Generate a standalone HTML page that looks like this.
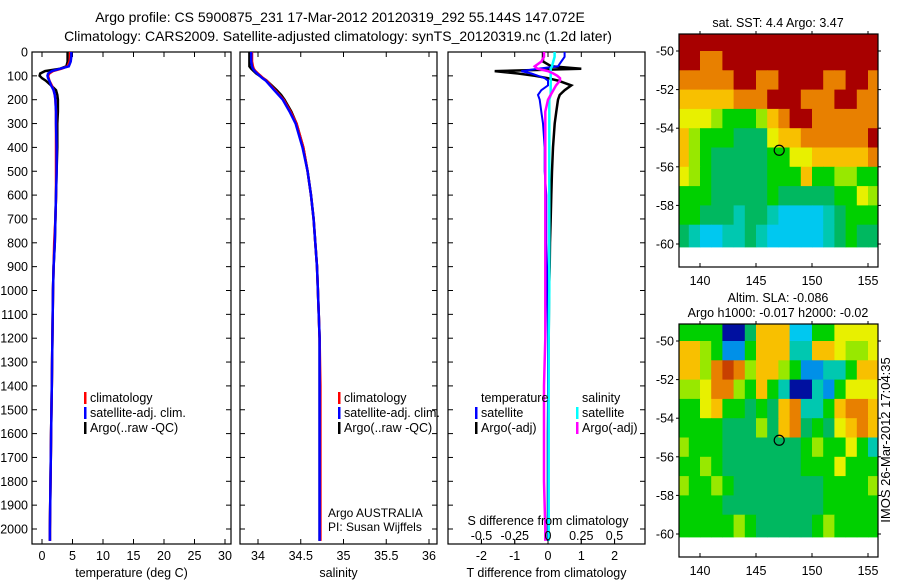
<!DOCTYPE html>
<html><head><meta charset="utf-8"><style>
body{margin:0;background:#fff;}
svg{display:block;font-family:"Liberation Sans",sans-serif;}
</style></head><body>
<svg id="fig" width="900" height="580" viewBox="0 0 900 580">
<text x="340" y="22" font-size="14" text-anchor="middle">Argo profile: CS 5900875_231 17-Mar-2012 20120319_292 55.144S 147.072E</text>
<text x="338" y="41" font-size="14" text-anchor="middle">Climatology: CARS2009. Satellite-adjusted climatology: synTS_20120319.nc (1.2d later)</text>
<g id="plots"></g>
<text transform="translate(890,440) rotate(-90)" font-size="13" text-anchor="middle">IMOS 26-Mar-2012 17:04:35</text>
</svg>
<script>
// ---- profile data ----
const depths=[0,20,40,60,70,80,90,100,110,120,140,160,180,200,250,300,400,500,600,700,800,900,1000,1200,1400,1600,1800,2000,2050];
const tempClim=[4.6,4.6,4.5,4.2,3.2,1.8,1.2,1.0,1.1,1.2,1.6,1.9,2.1,2.2,2.3,2.3,2.3,2.3,2.3,2.2,2.0,1.9,1.8,1.7,1.6,1.5,1.4,1.3,1.3];
const tempSat=[4.8,4.8,4.7,4.4,3.0,1.6,1.0,0.9,1.0,1.2,1.5,1.9,2.1,2.2,2.3,2.3,2.4,2.4,2.3,2.2,2.1,1.9,1.8,1.7,1.6,1.5,1.4,1.3,1.3];
const tempArgo=[4.2,4.2,4.2,4.0,3.0,0.5,-0.3,-0.4,0.0,0.6,1.5,2.3,2.5,2.6,2.6,2.5,2.5,2.4,2.3,2.2,2.1,1.9,1.8,1.7,1.6,1.5,1.4,1.3,1.3];
const salClim=[33.93,33.93,33.93,33.94,33.95,33.97,34.0,34.03,34.06,34.1,34.15,34.2,34.25,34.3,34.38,34.45,34.53,34.58,34.62,34.65,34.67,34.69,34.7,34.72,34.73,34.73,34.73,34.73,34.73];
const salSat=[33.92,33.92,33.92,33.93,33.94,33.96,33.99,34.02,34.05,34.09,34.14,34.19,34.24,34.29,34.37,34.44,34.52,34.58,34.62,34.65,34.67,34.69,34.7,34.72,34.72,34.72,34.72,34.72,34.72];
const salArgo=[33.9,33.9,33.9,33.9,33.92,33.95,33.98,34.02,34.06,34.1,34.16,34.22,34.27,34.31,34.39,34.45,34.53,34.58,34.62,34.65,34.67,34.69,34.7,34.72,34.72,34.72,34.72,34.72,34.72];
const tDiffSat=[0.5,0.5,0.4,0.3,-0.3,-0.8,-0.5,-0.3,-0.1,0.0,0.0,-0.2,-0.3,-0.25,-0.2,-0.15,-0.1,-0.1,-0.05,-0.05,-0.05,-0.03,-0.02,0,0,0,0,0,0];
const tDiffArgo=[-0.15,-0.15,-0.15,0.1,1.0,-1.6,-0.9,-0.4,0.0,0.3,0.7,0.5,0.35,0.3,0.25,0.2,0.15,0.12,0.1,0.08,0.06,0.05,0.03,0.02,0.01,0,0,0,0];
const sDiffSat=[0.05,0.05,0.04,0.03,0.02,0.02,0.02,0.02,0.02,0.02,0.02,0.02,0.02,0.01,0.01,0.01,0.01,0.01,0.01,0.01,0.01,0.01,0.01,0.005,0.005,0.005,0.005,0.005,0.005];
const sDiffArgo=[-0.03,-0.03,-0.05,-0.1,-0.08,0.0,0.04,0.07,0.09,0.09,0.06,0.04,0.02,0.0,-0.02,-0.02,-0.02,-0.02,-0.02,-0.02,-0.02,-0.02,-0.02,-0.02,-0.03,-0.03,-0.03,-0.02,-0.02];
const depthTicks=[0,100,200,300,400,500,600,700,800,900,1000,1100,1200,1300,1400,1500,1600,1700,1800,1900,2000];
const tempTicks=[0,5,10,15,20,25,30];
const salTicks=[34,34.5,35,35.5,36];
const tDiffTicks=[-2,-1,0,1,2];
const sDiffTicks=[-0.5,-0.25,0,0.25,0.5];
const sDiffTickLabels=["-0.5","-0.25","0","0.25","0.5"];
// ---- map data (rows top->bottom lat -49..-60, cols lon 138..155) ----
const sstRows=["RRRRRRRRRRRRRRRRRR","RROORRRRRRRRRRRRRR","OOOOORROORRRROORRO","YYYYYOOORRROOORROO","yyyLGGGLYORROOOOOO","YLGGGgggyYYOOOOOOR","YLGgggggGGyyYYYYYO","yLGgggggGGGYGGLLGG","GGGgggggGgggggGGyL","GGgggTggTCCCCTgGGG","gTCCTTgTCCCCCTgGgg","gTCCTTgTCCCCCTgGgg"];
const slaRows=["GGGGDDgYYYCCGGyyyy","YYLGBBGYYYTTYYyLLy","YYLOrOLYYLGBBTTGYY","LLyOOLGYGTDDTBGyyy","GGyYGGgGgYOTTGYOOY","GGGGgggLgYOgGgyYOY","LGGGgggggggGLGGyGT","GGLGgggggggGGGyGGG","LGGLGggggggggGGGGL","GGGGgggggggggGGGGG","GGGGGLGgggggGLGGGG","GGGGGLGgggggGLGGGG"];
const colorKey={R:"#a80000",r:"#c84000",O:"#e88000",Y:"#f8c000",y:"#e8f000",L:"#98e800",G:"#00d000",g:"#00b860",T:"#00c8b0",C:"#00c8f0",B:"#0090e8",D:"#0010a0"};
const mapLonTicks=[140,145,150,155];
const mapLatTicks=[-50,-52,-54,-56,-58,-60];
const argoLon=147.072, argoLat=-55.144;

const NS="http://www.w3.org/2000/svg";
const root=document.getElementById('plots');
function el(tag,attrs,parent,txt){const e=document.createElementNS(NS,tag);for(const k in attrs)e.setAttribute(k,attrs[k]);if(txt!==undefined)e.textContent=txt;(parent||root).appendChild(e);return e;}
const yTop=52, pxPerM=0.2385, yBot=544;
const yD=d=>yTop+d*pxPerM;

function panel(name,x0,x1,xScale,ticks,labels,xtitle,series){
  const g=el('g',{});
  
  
  const fr=el('rect',{x:x0,y:yTop,width:x1-x0,height:yBot-yTop,fill:'none',stroke:'#000','stroke-width':1.2},g);
  
  
  depthTicks.forEach(d=>{
    el('line',{x1:x0,x2:x0+5,y1:yD(d),y2:yD(d),stroke:'#000'},g);
    el('line',{x1:x1,x2:x1-5,y1:yD(d),y2:yD(d),stroke:'#000'},g);
  });
  ticks.forEach((t,i)=>{
    const x=xScale(t);
    el('line',{x1:x,x2:x,y1:yBot,y2:yBot-5,stroke:'#000'},g);
    el('line',{x1:x,x2:x,y1:yTop,y2:yTop+5,stroke:'#000'},g);
    const tl=el('text',{x:x,y:yBot+16,'font-size':12.5,'text-anchor':'middle'},g,labels[i]);
    
    
  });
  const xt=el('text',{x:(x0+x1)/2,y:577,'font-size':12.5,'text-anchor':'middle'},g,xtitle);
  
  
  series.forEach(s=>{
    const pts=s.vals.map((v,i)=>xScale(v).toFixed(1)+','+yD(depths[i]).toFixed(1)).join(' ');
    const pl=el('polyline',{points:pts,fill:'none',stroke:s.color,'stroke-width':s.w||2.5,'stroke-linejoin':'miter'},g);
    
    
  });
  return g;
}
depthTicks.forEach(d=>{
  const t=el('text',{x:28,y:yD(d)+4.5,'font-size':12.5,'text-anchor':'end'},root,String(d));
  
  
});
const xT=v=>42+6.1*v;
const xS=v=>258+85.5*(v-34);
const xTd=v=>548+33.3*v;
const xSd=v=>548+133*v;
panel('temperature-panel',32,231,xT,tempTicks,tempTicks.map(String),'temperature (deg C)',[
 {vals:tempArgo,color:'#000',name:'argo-temperature-line'},
 {vals:tempClim,color:'#f00',name:'clim-temperature-line'},
 {vals:tempSat,color:'#00f',name:'sat-temperature-line'}]);
panel('salinity-panel',240,437,xS,salTicks,salTicks.map(String),'salinity',[
 {vals:salArgo,color:'#000',name:'argo-salinity-line'},
 {vals:salClim,color:'#f00',name:'clim-salinity-line'},
 {vals:salSat,color:'#00f',name:'sat-salinity-line'}]);
const g3=panel('difference-panel',448,645,xTd,tDiffTicks,tDiffTicks.map(String),'T difference from climatology',[
 {vals:tDiffArgo,color:'#000',name:'argo-t-diff-line'},
 {vals:tDiffSat,color:'#00f',name:'sat-t-diff-line',w:2}]);
[{vals:sDiffSat,color:'#0ff',name:'sat-s-diff-line'},{vals:sDiffArgo,color:'#f0f',name:'argo-s-diff-line'}].forEach(s=>{
  const pts=s.vals.map((v,i)=>xSd(v).toFixed(1)+','+yD(depths[i]).toFixed(1)).join(' ');
  const pl=el('polyline',{points:pts,fill:'none',stroke:s.color,'stroke-width':2.5},g3);
  
  
});
sDiffTicks.forEach((t,i)=>{
  const x=xSd(t);
  el('line',{x1:x,x2:x,y1:yBot,y2:yBot-4,stroke:'#000'},g3);
  const tl=el('text',{x:x,y:540,'font-size':12.5,'text-anchor':'middle'},g3,sDiffTickLabels[i]);
  
  
});
const st=el('text',{x:548,y:525,'font-size':12.5,'text-anchor':'middle'},g3,'S difference from climatology');



function legend(items,x,y0){
  items.forEach((it,i)=>{
    const y=y0+i*15;
    if(it.c){el('rect',{x:x,y:y-10,width:2.5,height:12,fill:it.c});}
    const t=el('text',{x:x+6,y:y,'font-size':12.5},root,it.t);
    
    
  });
}
legend([{t:'climatology',c:'#f00'},{t:'satellite-adj. clim.',c:'#00f'},{t:'Argo(..raw -QC)',c:'#000'}],84,402);
legend([{t:'climatology',c:'#f00'},{t:'satellite-adj. clim.',c:'#00f'},{t:'Argo(..raw -QC)',c:'#000'}],338,402);
legend([{t:'temperature'},{t:'satellite',c:'#00f'},{t:'Argo(-adj)',c:'#000'}],475,402);
legend([{t:'salinity'},{t:'satellite',c:'#0ff'},{t:'Argo(-adj)',c:'#f0f'}],576,402);
const a1=el('text',{x:328,y:517,'font-size':12},root,'Argo AUSTRALIA');

const a2=el('text',{x:328,y:531,'font-size':12},root,'PI: Susan Wijffels');


function map(name,yOff,rows,titles){
  const x0=679,x1=878,top=yOff+34,bot=yOff+267;
  const lonX=l=>700+(l-140)*11.2;
  const latY=l=>yOff+51+(-50-l)*19.3;
  const g=el('g',{});
  
  
  rows.forEach((row,r)=>{
    const latA=-49-r, latB=r===rows.length-1?-60.15:-50-r;
    for(let c=0;c<18;c++){
      const ch=row[c]||row[row.length-1];
      const xa=Math.max(x0,lonX(138+c)), xb=Math.min(x1,lonX(139+c));
      const ya=Math.max(top,latY(latA)), yb=latY(latB);
      const cell=el('rect',{x:xa.toFixed(1),y:ya.toFixed(1),width:(xb-xa+0.5).toFixed(1),height:(yb-ya+0.5).toFixed(1),fill:colorKey[ch]},g);
      
      
    }
  });
  const fr=el('rect',{x:x0,y:top,width:x1-x0,height:bot-top,fill:'none',stroke:'#000','stroke-width':1.2},g);
  
  mapLonTicks.forEach(l=>{
    const x=lonX(l);
    el('line',{x1:x,x2:x,y1:bot,y2:bot-4,stroke:'#000'},g);
    el('line',{x1:x,x2:x,y1:top,y2:top-3,stroke:'#000'},g);
    const t=el('text',{x:x,y:bot+18,'font-size':12.5,'text-anchor':'middle'},g,String(l));
    
  });
  mapLatTicks.forEach(l=>{
    const y=latY(l);
    el('line',{x1:x0,x2:x0-3,y1:y,y2:y,stroke:'#000'},g);
    el('line',{x1:x1,x2:x1+3,y1:y,y2:y,stroke:'#000'},g);
    const t=el('text',{x:x0-5,y:y+4.5,'font-size':12.5,'text-anchor':'end'},g,String(l));
    
  });
  const m=el('circle',{cx:lonX(argoLon),cy:latY(argoLat),r:5,fill:'none',stroke:'#000','stroke-width':1.2},g);
  
  titles.forEach((tt,i)=>{
    const t=el('text',{x:778,y:yOff+27-(titles.length-1-i)*15,'font-size':12.5,'text-anchor':'middle'},g,tt);
    
  });
}
map('sst-map',0,sstRows,['sat. SST: 4.4  Argo: 3.47']);
map('sla-map',290,slaRows,['Altim. SLA: -0.086','Argo h1000: -0.017 h2000: -0.02']);
</script>
</body></html>
